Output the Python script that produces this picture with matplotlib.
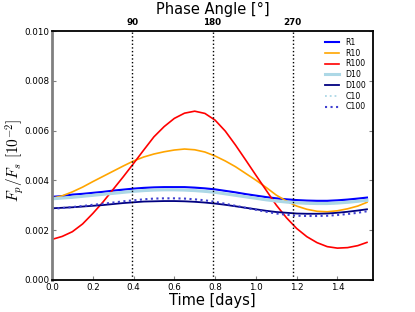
import numpy as np
import matplotlib
matplotlib.use("Agg")
import matplotlib.pyplot as plt

plt.rcParams['mathtext.fontset'] = 'cm'
plt.rcParams['font.family'] = ['DejaVu Sans']

# ---- data ----
period = 1.575  # days, phase 0..360 deg
phase_ticks = [90, 180, 270]

t = [0.0, 0.05, 0.1, 0.15, 0.2, 0.25, 0.3, 0.35, 0.4, 0.45, 0.5, 0.55, 0.6, 0.65,
     0.7, 0.75, 0.8, 0.85, 0.9, 0.95, 1.0, 1.05, 1.1, 1.15, 1.2, 1.25, 1.3, 1.35,
     1.4, 1.45, 1.5, 1.545]

R1 = [0.00334, 0.00337, 0.00343, 0.00346, 0.00350, 0.00354, 0.00359, 0.00363,
      0.00367, 0.00370, 0.00372, 0.00373, 0.00373, 0.00373, 0.00371, 0.00368,
      0.00364, 0.00358, 0.00352, 0.00345, 0.00339, 0.00333, 0.00328, 0.00324,
      0.00321, 0.00319, 0.00318, 0.00318, 0.00320, 0.00323, 0.00327, 0.00331]

R10 = [0.00328, 0.00338, 0.00354, 0.00373, 0.00395, 0.00416, 0.00437, 0.00458,
       0.00478, 0.00494, 0.00506, 0.00515, 0.00522, 0.00526, 0.00523, 0.00514,
       0.00498, 0.00478, 0.00455, 0.00428, 0.00401, 0.00372, 0.00341, 0.00317,
       0.00297, 0.00284, 0.00276, 0.00274, 0.00278, 0.00286, 0.00297, 0.00312]

R100 = [0.00163, 0.00175, 0.00194, 0.00225, 0.00267, 0.00313, 0.00364, 0.00415,
        0.00468, 0.00522, 0.00575, 0.00616, 0.00649, 0.00670, 0.00678, 0.00669,
        0.00642, 0.00598, 0.00542, 0.00482, 0.00421, 0.00361, 0.00301, 0.00250,
        0.00207, 0.00174, 0.00150, 0.00134, 0.00128, 0.00130, 0.00138, 0.00151]

D10 = [0.00326, 0.00329, 0.00332, 0.00336, 0.00340, 0.00344, 0.00348, 0.00352,
       0.00356, 0.00359, 0.00361, 0.00362, 0.00362, 0.00361, 0.00359, 0.00356,
       0.00352, 0.00346, 0.00340, 0.00334, 0.00328, 0.00322, 0.00317, 0.00313,
       0.00310, 0.00308, 0.00307, 0.00307, 0.00309, 0.00312, 0.00316, 0.00320]

D100 = [0.00288, 0.00290, 0.00292, 0.00295, 0.00298, 0.00301, 0.00305, 0.00309,
        0.00312, 0.00315, 0.00316, 0.00317, 0.00317, 0.00316, 0.00314, 0.00311,
        0.00307, 0.00302, 0.00296, 0.00290, 0.00284, 0.00278, 0.00273, 0.00270,
        0.00267, 0.00266, 0.00266, 0.00267, 0.00270, 0.00274, 0.00279, 0.00284]

C10 = [0.00327, 0.00330, 0.00333, 0.00337, 0.00341, 0.00345, 0.00349, 0.00353,
       0.00357, 0.00360, 0.00362, 0.00363, 0.00363, 0.00362, 0.00360, 0.00357,
       0.00352, 0.00346, 0.00340, 0.00334, 0.00328, 0.00322, 0.00317, 0.00313,
       0.00310, 0.00308, 0.00307, 0.00307, 0.00309, 0.00312, 0.00316, 0.00320]

C100 = [0.00286, 0.00289, 0.00293, 0.00297, 0.00302, 0.00306, 0.00311, 0.00316,
        0.00320, 0.00324, 0.00327, 0.00328, 0.00328, 0.00327, 0.00324, 0.00320,
        0.00314, 0.00306, 0.00298, 0.00290, 0.00282, 0.00274, 0.00267, 0.00262,
        0.00258, 0.00257, 0.00257, 0.00258, 0.00261, 0.00265, 0.00270, 0.00276]

series = [
    ("R1", R1, dict(color="#0000ff", lw=1.5, ls="-")),
    ("R10", R10, dict(color="orange", lw=1.2, ls="-")),
    ("R100", R100, dict(color="red", lw=1.2, ls="-")),
    ("D10", D10, dict(color="lightblue", lw=2.2, ls="-")),
    ("D100", D100, dict(color="navy", lw=1.3, ls="-")),
    ("C10", C10, dict(color="lightblue", lw=1.3, ls=":")),
    ("C100", C100, dict(color="#4040d0", lw=1.5, ls=":")),
]

fig = plt.figure(figsize=(4.15, 3.12), dpi=100)
ax = fig.add_axes([0.1253, 0.1026, 0.899 - 0.1253, 0.9006 - 0.1026])

for name, vals, st in series:
    ax.plot(t, vals, label=name, **st)

for ang in phase_ticks:
    ax.axvline(period * ang / 360.0, color="black", ls=":", lw=1.0)

ax.set_xlim(0, period)
ax.set_ylim(0, 0.010)
ax.set_yticks([0.000, 0.002, 0.004, 0.006, 0.008, 0.010])
ax.set_yticklabels(["0.000", "0.002", "0.004", "0.006", "0.008", "0.010"])
ax.set_xticks([0.0, 0.2, 0.4, 0.6, 0.8, 1.0, 1.2, 1.4])
ax.tick_params(direction="in", length=3, width=0.8, color="gray",
               labelsize=6.3, pad=2, right=True, top=False)

for side in ["top", "right", "bottom"]:
    ax.spines[side].set_linewidth(1.3)
    ax.spines[side].set_color("black")
ax.spines["left"].set_color("gray")
ax.spines["left"].set_linewidth(2.0)

ax.set_xlabel("Time [days]", fontsize=10.5, labelpad=1)
ax.set_ylabel(r"$F_p/F_s\ [10^{-2}]$", fontsize=11)
ax.yaxis.set_label_coords(-0.082, 0.48)

ax2 = ax.twiny()
ax2.set_xlim(0, 360)
ax2.set_xticks(phase_ticks)
ax2.set_xticklabels([str(a) for a in phase_ticks], fontsize=6.3, fontweight="bold")
ax2.tick_params(length=0, pad=3)
for s in ax2.spines.values():
    s.set_visible(False)
ax2.set_title("Phase Angle [°]", fontsize=10.5, pad=3)

leg = ax.legend(loc="upper right", frameon=False, fontsize=5.6,
                handlelength=1.8, labelspacing=0.22, borderaxespad=0.5,
                handletextpad=0.8, borderpad=0.4)

fig.savefig("out.png", dpi=100)
